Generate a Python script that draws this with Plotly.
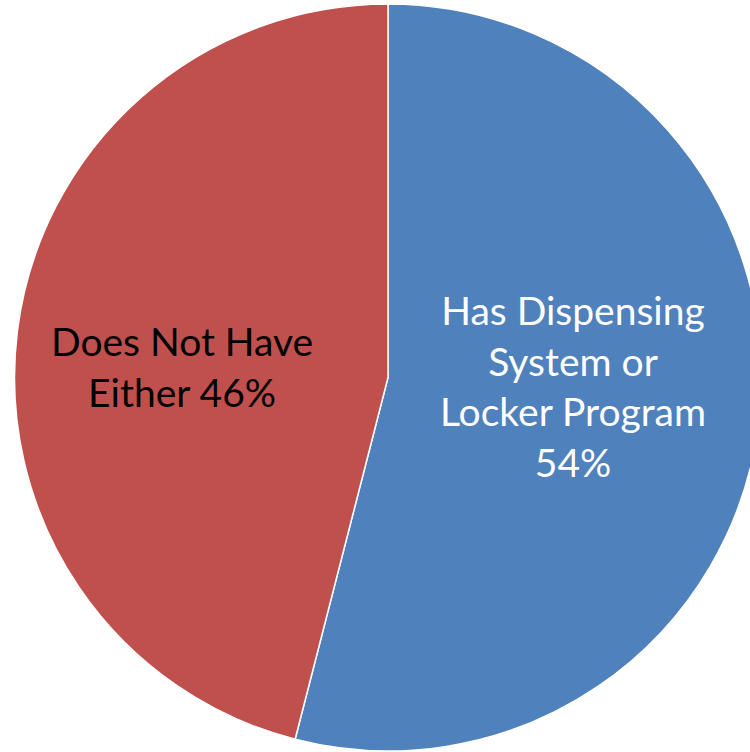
import plotly.graph_objects as go

labels = ["Has Dispensing System or Locker Program", "Does Not Have Either"]
values = [54, 46]
label_text = ["Has Dispensing<br>System or<br>Locker Program<br>54%", "Does Not Have<br>Either 46%"]
colors = ["#4F81BD", "#C0504D"]
text_colors = ["white", "black"]

W, H = 780, 752

fig = go.Figure(go.Pie(
    labels=labels,
    values=values,
    sort=False,
    direction="clockwise",
    rotation=0,
    textinfo="none",
    hoverinfo="label+percent",
    marker=dict(colors=colors, line=dict(color="white", width=1.5)),
    domain=dict(x=[14 / W, 762 / W], y=[1 - 751 / H, 1 - 4 / H]),
    showlegend=False,
))

positions = [(573, 386), (182, 367)]
for txt, col, (px, py) in zip(label_text, text_colors, positions):
    fig.add_annotation(
        x=px / W, y=1 - py / H, xref="paper", yref="paper",
        text=txt, showarrow=False, align="center",
        xanchor="center", yanchor="middle",
        font=dict(family="Lato, Open Sans, sans-serif", size=39, color=col),
    )

fig.update_layout(
    width=W, height=H,
    margin=dict(l=0, r=0, t=0, b=0),
    paper_bgcolor="white",
    plot_bgcolor="white",
)

fig.write_html("out.html")
